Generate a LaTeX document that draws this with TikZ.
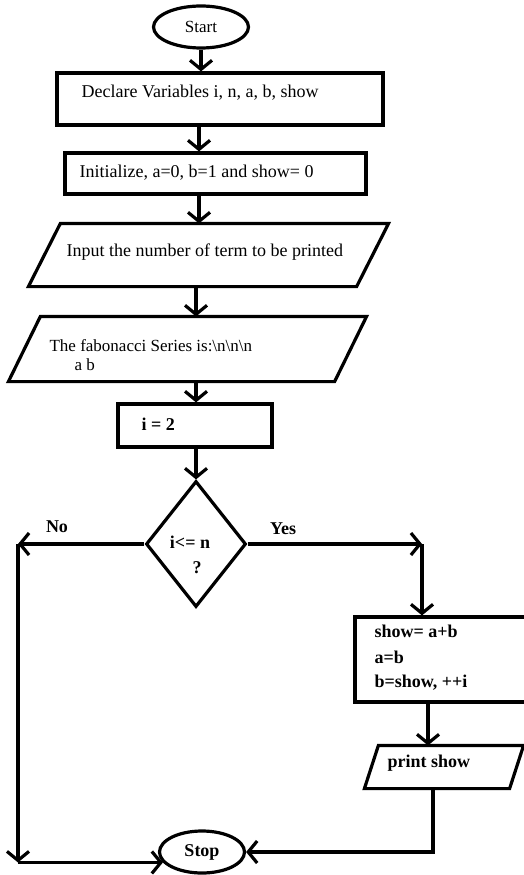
\documentclass[tikz,border=0pt]{standalone}
\usepackage{fontspec}
\setmainfont{Liberation Serif}
\usetikzlibrary{arrows.meta,shapes.geometric,calc}
\begin{document}
\begin{tikzpicture}[x=1pt,y=-1pt,
  line width=3.2pt,
  arr/.style={-{Straight Barb[length=9pt,width=22pt]}},
  box/.style={draw, rectangle, inner sep=0pt},
  term/.style={draw, ellipse, inner sep=0pt},
  area/.style={rectangle, inner sep=0pt},
  txt/.style={anchor=west, inner sep=0pt, font=\fontsize{18}{20}\selectfont},
  btxt/.style={anchor=west, inner sep=0pt, font=\fontsize{18}{20}\selectfont\bfseries},
]
\useasboundingbox (0,0) rectangle (524,875);

% Start
\node[term, minimum width=95pt, minimum height=42pt, font=\fontsize{17}{19}\selectfont] (start) at (201,27) {Start};

% Declare
\node[box, minimum width=326pt, minimum height=52pt] (decl) at (220,99) {};
\node[txt] (tdecl) at (80,93) {Declare Variables i, n, a, b, show};

% Initialize
\node[box, minimum width=301pt, minimum height=41pt] (init) at (215.5,173.5) {};
\node[txt] (tinit) at (78,173) {Initialize, a=0, b=1 and show= 0};

% Input
\node[area, minimum width=357pt, minimum height=60pt] (inp) at (208.5,255) {};
\draw ($(inp.north west)+(32,0)$) -- (inp.north east) -- ($(inp.south east)+(-32,0)$) -- (inp.south west) -- cycle;
\node[txt] (tinp) at (65,252) {Input the number of term to be printed};

% Fibonacci output
\node[area, minimum width=355pt, minimum height=62pt] (fib) at (187.5,349) {};
\draw ($(fib.north west)+(32,0)$) -- (fib.north east) -- ($(fib.south east)+(-32,0)$) -- (fib.south west) -- cycle;
\node[txt, align=left, font=\fontsize{17}{19}\selectfont] (tfib) at (48,355) {The fabonacci Series is:\textbackslash n\textbackslash n\textbackslash n\\\hspace*{25pt}a b};

% i = 2
\node[box, minimum width=154pt, minimum height=43pt] (two) at (195,425.5) {};
\node[btxt] (ttwo) at (140,424) {i = 2};

% Decision
\node[draw, diamond, minimum width=100pt, minimum height=126pt, inner sep=0pt] (dia) at (196,544) {};
\node[btxt, anchor=center] (tdia) at (190,542) {i<= n};
\node[btxt, anchor=center] (tq) at (197,568) {?};
\node[btxt, anchor=center] (tno) at (57,527) {No};
\node[btxt, anchor=center] (tyes) at (283,529) {Yes};

% Process
\node[box, minimum width=175pt, minimum height=85pt] (proc) at (442.5,659.5) {};
\node[btxt] (tp1) at (373,631) {show= a+b};
\node[btxt] (tp2) at (373,657) {a=b};
\node[btxt] (tp3) at (373,683) {b=show, ++i};

% Print
\node[area, minimum width=156pt, minimum height=40pt] (pr) at (444,767) {};
\draw ($(pr.north west)+(14,0)$) -- (pr.north east) -- ($(pr.south east)+(-14,0)$) -- (pr.south west) -- cycle;
\node[btxt] (tpr) at (386,763) {print show};

% Stop
\node[term, minimum width=85pt, minimum height=42pt, font=\fontsize{18}{20}\selectfont\bfseries] (stop) at (202,852) {Stop};

% Columns
\coordinate (colA) at (199,0);
\coordinate (colB) at (196,0);
\coordinate (nc) at (18,0);
\coordinate (yc) at (422,0);
\coordinate (pc) at (428,0);
\coordinate (qc) at (433,0);

% Connectors
\draw[arr] (start.south) -- (start.south |- decl.north);
\draw[arr] (decl.south -| colA) -- (init.north -| colA);
\draw[arr] (init.south -| colA) -- (inp.north -| colA);
\draw[arr] (inp.south -| colB) -- (fib.north -| colB);
\draw[arr] (fib.south -| colB) -- (two.north -| colB);
\draw[arr] (two.south -| dia.north) -- (dia.north);

\draw[arr] (dia.west) -- (dia.west -| nc);
\draw[arr] (dia.west -| nc) -- (nc |- stop.195);
\draw[arr] (nc |- stop.195) -- (stop.195);

\draw[arr] (dia.east) -- (dia.east -| yc);
\draw[arr] (dia.east -| yc) -- (yc |- proc.north);

\draw[arr] (proc.south -| pc) -- (pr.north -| pc);
\draw[arr] (pr.south -| qc) |- (stop.east);
\end{tikzpicture}
\end{document}
